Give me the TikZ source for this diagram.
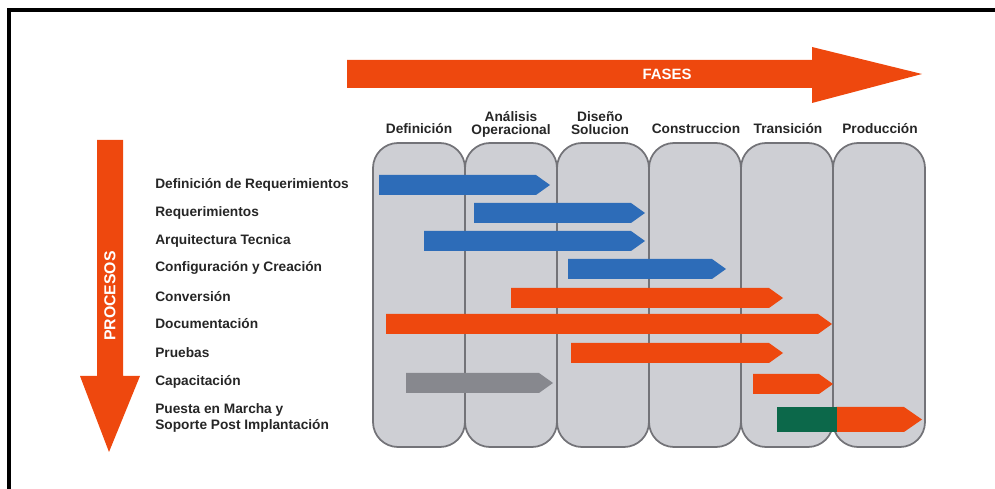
\documentclass[tikz,border=0pt]{standalone}
\usepackage{fontspec}
\setmainfont{Liberation Sans}
\usetikzlibrary{positioning}

\definecolor{faseorange}{RGB}{238,72,14}
\definecolor{procblue}{RGB}{45,108,184}
\definecolor{procgray}{RGB}{135,136,142}
\definecolor{procgreen}{RGB}{12,104,74}
\definecolor{colfill}{RGB}{206,207,212}
\definecolor{coledge}{RGB}{115,115,120}

\tikzset{
    phasecol/.style={fill=colfill, draw=coledge, line width=1pt, rounded corners=0.5cm},
    proclabel/.style={anchor=west, inner sep=0pt, text=black!85,
        font=\fontsize{7.8}{8.6}\selectfont\bfseries},
    phaselabel/.style={anchor=south, inner sep=0pt, text depth=0pt, align=center, text=black!85,
        font=\fontsize{7.8}{7.2}\selectfont\bfseries},
    biglabel/.style={inner sep=0pt, text=white, font=\fontsize{8.5}{9}\selectfont\bfseries}
}

\begin{document}
\begin{tikzpicture}[x=0.02cm, y=-0.02cm]
    \useasboundingbox (0, 0) rectangle (995, 489);
    % frame
    \draw[line width=2.8pt] (995, 10) -- (9, 10) -- (9, 489);

    % FASES arrow
    \fill[faseorange] (347, 60) -- (812, 60) -- (812, 47) -- (922, 74)
        -- (812, 103) -- (812, 88) -- (347, 88) -- cycle;
    \node[biglabel] (fases) at (667, 74) {FASES};

    % PROCESOS arrow
    \fill[faseorange] (97, 140) -- (123, 140) -- (123, 376) -- (140, 376) -- (109, 452)
        -- (80, 376) -- (97, 376) -- cycle;
    \node[biglabel, rotate=90, font=\fontsize{9}{9}\selectfont\bfseries] (procesos) at (110, 296) {PROCESOS};

    % phase columns
    \foreach \xa in {373, 465, 557, 649, 741, 833}
        \draw[phasecol] (\xa, 143) rectangle (\xa + 92, 447);

    % phase labels
    \node[phaselabel] (definicion) at (419, 134) {Definición};
    \node[phaselabel] (analisis) at (511, 135) {Análisis\\Operacional};
    \node[phaselabel] (diseno) at (600, 135) {Diseño\\Solucion};
    \node[phaselabel] (construccion) at (696, 134) {Construccion};
    \node[phaselabel] (transicion) at (788, 134) {Transición};
    \node[phaselabel] (produccion) at (880, 134) {Producción};

    % process labels
    \node[proclabel] (defreq) at (155, 185) {Definición de Requerimientos};
    \node[proclabel] (req) at (155, 213) {Requerimientos};
    \node[proclabel] (arq) at (155, 241) {Arquitectura Tecnica};
    \node[proclabel] (config) at (155, 268) {Configuración y Creación};
    \node[proclabel] (conv) at (155, 297) {Conversión};
    \node[proclabel] (doc) at (155, 324) {Documentación};
    \node[proclabel] (pruebas) at (155, 353) {Pruebas};
    \node[proclabel] (capac) at (155, 382) {Capacitación};
    \node[proclabel, align=left] (puesta) at (155, 418) {Puesta en Marcha y\\Soporte Post Implantación};

    % process bars: colour / start / tip / centre
    \foreach \c/\xa/\xb/\yy in {procblue/379/550/185, procblue/474/645/213, procblue/424/645/241,
            procblue/568/726/269, faseorange/511/783/298, faseorange/386/832/324,
            faseorange/571/783/353, procgray/406/553/383, faseorange/753/833/384}
        \fill[\c] (\xa, \yy - 10) -- (\xb - 14, \yy - 10) -- (\xb, \yy)
            -- (\xb - 14, \yy + 10) -- (\xa, \yy + 10) -- cycle;
    \fill[faseorange] (836, 407) -- (904, 407) -- (922, 419.5) -- (904, 432) -- (836, 432) -- cycle;
    \fill[procgreen] (777, 407) rectangle (837, 432);
\end{tikzpicture}
\end{document}
